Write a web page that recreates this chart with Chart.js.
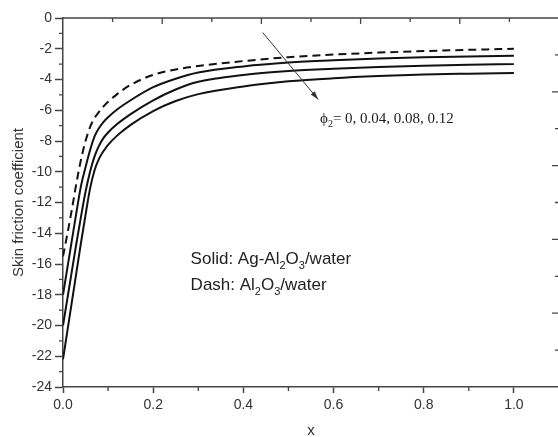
<!DOCTYPE html>
<html>
<head>
<meta charset="utf-8">
<script src="https://cdn.jsdelivr.net/npm/chart.js@4.4.1/dist/chart.umd.min.js"></script>
<style>
  html, body { margin: 0; padding: 0; background: #fff; overflow: hidden; }
  #wrap { width: 558px; height: 437px; overflow: hidden; background: #fff; }
</style>
</head>
<body>
<div id="wrap"><canvas id="chart" width="560" height="437"></canvas></div>
<script>
// x positions along the plate
var xValues = [0, 0.01, 0.02, 0.03, 0.04, 0.05, 0.06, 0.07, 0.08, 0.09, 0.1, 0.12, 0.15, 0.2, 0.25, 0.3, 0.4, 0.5, 0.6, 0.7, 0.8, 0.9, 1.0];

// Al2O3/water (phi2 = 0), dashed
var cfPhi0 = [-15.5, -14.0, -12.4, -10.7, -9.2, -8.0, -7.1, -6.5, -6.1, -5.75, -5.45, -4.95, -4.35, -3.7, -3.35, -3.12, -2.8, -2.55, -2.38, -2.25, -2.15, -2.07, -2.0];
// Ag-Al2O3/water, solid
var cfPhi004 = [-18.0, -16.2, -14.4, -12.6, -10.9, -9.7, -8.6, -7.7, -7.15, -6.75, -6.45, -5.95, -5.35, -4.5, -3.95, -3.55, -3.15, -2.9, -2.75, -2.64, -2.56, -2.5, -2.45];
var cfPhi008 = [-20.0, -18.2, -16.4, -14.6, -12.9, -11.3, -10.0, -9.0, -8.3, -7.8, -7.45, -6.9, -6.25, -5.35, -4.65, -4.15, -3.7, -3.45, -3.3, -3.19, -3.1, -3.04, -3.0];
var cfPhi012 = [-22.2, -20.3, -18.4, -16.5, -14.6, -12.8, -11.1, -9.9, -9.15, -8.65, -8.25, -7.65, -6.95, -6.05, -5.4, -4.95, -4.45, -4.12, -3.92, -3.78, -3.68, -3.62, -3.57];

var xTicks = [0, 0.2, 0.4, 0.6, 0.8, 1.0];
var yTicks = [0, -2, -4, -6, -8, -10, -12, -14, -16, -18, -20, -22, -24];

var axisColor = "#444";
var textColor = "#333";
var sans = "'Liberation Sans', Arial, sans-serif";
var serif = "'Liberation Serif', 'Times New Roman', serif";

function toPoints(ys) {
  return xValues.map(function (x, i) {
    return { x: x, y: ys[i] };
  });
}

function curve(label, ys, dashed) {
  return {
    label: label,
    data: toPoints(ys),
    borderColor: "#111",
    borderWidth: 2,
    borderDash: dashed ? [8, 5] : [],
    pointRadius: 0,
    fill: false,
    cubicInterpolationMode: "monotone",
  };
}

// text with a subscript run: parts = [[text, isSub], ...]
function drawRich(ctx, parts, x, y, size, family) {
  var cx = x;
  parts.forEach(function (p) {
    var fs = p[1] ? Math.round(size * 0.65) : size;
    ctx.font = fs + "px " + family;
    ctx.fillText(p[0], cx, p[1] ? y + size * 0.3 : y);
    cx += ctx.measureText(p[0]).width;
  });
}

// frame, minor ticks and the mirrored top/right ticks
var frameTicks = {
  id: "frameTicks",
  afterDraw: function (chart) {
    var ctx = chart.ctx;
    var a = chart.chartArea;
    var xs = chart.scales.x;
    var ys = chart.scales.y;
    ctx.save();
    ctx.strokeStyle = axisColor;
    ctx.lineWidth = 1.5;
    ctx.beginPath();
    ctx.moveTo(a.left, a.top);
    ctx.lineTo(a.right, a.top);
    ctx.lineTo(a.right, a.bottom);
    ctx.stroke();

    ctx.lineWidth = 1.3;
    ctx.beginPath();
    // minor ticks, bottom
    for (var v = 0.1; v < 1.05; v += 0.2) {
      var px = xs.getPixelForValue(v);
      ctx.moveTo(px, a.bottom);
      ctx.lineTo(px, a.bottom + 4);
    }
    // minor ticks, left
    for (var w = -1; w > -24; w -= 2) {
      var py = ys.getPixelForValue(w);
      ctx.moveTo(a.left, py);
      ctx.lineTo(a.left - 4, py);
    }
    // top and right ticks, ten divisions, inward
    for (var k = 1; k < 10; k++) {
      var tx = a.left + (a.right - a.left) * k / 10;
      ctx.moveTo(tx, a.top);
      ctx.lineTo(tx, a.top + (k % 2 === 0 ? 6 : 4));
      var ty = a.top + (a.bottom - a.top) * k / 10;
      ctx.moveTo(a.right, ty);
      ctx.lineTo(a.right - (k % 2 === 0 ? 7 : 4), ty);
    }
    ctx.stroke();
    ctx.restore();
  },
};

// arrow and text labels inside the plot
var notes = {
  id: "notes",
  afterDatasetsDraw: function (chart) {
    var ctx = chart.ctx;
    var xs = chart.scales.x;
    var ys = chart.scales.y;
    ctx.save();

    var x0 = xs.getPixelForValue(0.443), y0 = ys.getPixelForValue(-0.95);
    var x1 = xs.getPixelForValue(0.566), y1 = ys.getPixelForValue(-5.3);
    ctx.strokeStyle = "#333";
    ctx.fillStyle = "#333";
    ctx.lineWidth = 1;
    ctx.beginPath();
    ctx.moveTo(x0, y0);
    ctx.lineTo(x1, y1);
    ctx.stroke();
    var ang = Math.atan2(y1 - y0, x1 - x0);
    ctx.beginPath();
    ctx.moveTo(x1, y1);
    ctx.lineTo(x1 - 9 * Math.cos(ang - 0.3), y1 - 9 * Math.sin(ang - 0.3));
    ctx.lineTo(x1 - 9 * Math.cos(ang + 0.3), y1 - 9 * Math.sin(ang + 0.3));
    ctx.closePath();
    ctx.fill();

    ctx.fillStyle = "#222";
    ctx.textBaseline = "alphabetic";
    drawRich(ctx, [["\u03d5", false], ["2", true], ["= 0, 0.04, 0.08, 0.12", false]],
      xs.getPixelForValue(0.57), ys.getPixelForValue(-6.8), 15, serif);

    drawRich(ctx, [["Solid: Ag-Al", false], ["2", true], ["O", false], ["3", true], ["/water", false]],
      xs.getPixelForValue(0.283), ys.getPixelForValue(-16.0), 17, sans);
    drawRich(ctx, [["Dash: Al", false], ["2", true], ["O", false], ["3", true], ["/water", false]],
      xs.getPixelForValue(0.283), ys.getPixelForValue(-17.7), 17, sans);
    ctx.restore();
  },
};

var bg = {
  id: "bg",
  beforeDraw: function (chart) {
    var ctx = chart.ctx;
    ctx.save();
    ctx.fillStyle = "#fff";
    ctx.fillRect(0, 0, chart.width, chart.height);
    ctx.restore();
  },
};

var ctx = document.getElementById("chart").getContext("2d");

new Chart(ctx, {
  type: "line",
  data: {
    datasets: [
      curve("\u03d52 = 0", cfPhi0, true),
      curve("\u03d52 = 0.04", cfPhi004, false),
      curve("\u03d52 = 0.08", cfPhi008, false),
      curve("\u03d52 = 0.12", cfPhi012, false),
    ],
  },
  options: {
    responsive: false,
    animation: false,
    layout: { padding: { top: 18, right: 1, left: 0, bottom: 0 } },
    plugins: {
      legend: { display: false },
      tooltip: { enabled: false },
    },
    scales: {
      x: {
        type: "linear",
        min: 0,
        max: 1.1,
        afterBuildTicks: function (s) {
          s.ticks = xTicks.map(function (v) { return { value: v }; });
        },
        afterFit: function (s) { s.height = 50; },
        ticks: {
          color: textColor,
          font: { family: sans, size: 14 },
          padding: 4,
          maxRotation: 0,
          callback: function (v) { return Number(v).toFixed(1); },
        },
        grid: { drawOnChartArea: false, tickLength: 6, tickWidth: 1.5, tickColor: axisColor },
        border: { color: axisColor, width: 1.5 },
        title: {
          display: true,
          text: "x",
          color: textColor,
          font: { family: sans, size: 15 },
          padding: { top: 6, bottom: -3 },
        },
      },
      y: {
        type: "linear",
        min: -24,
        max: 0,
        afterBuildTicks: function (s) {
          s.ticks = yTicks.map(function (v) { return { value: v }; });
        },
        afterFit: function (s) { s.width = 63; },
        ticks: {
          color: textColor,
          font: { family: sans, size: 14 },
          padding: 3,
        },
        grid: { drawOnChartArea: false, tickLength: 8, tickWidth: 1.5, tickColor: axisColor },
        border: { color: axisColor, width: 1.5 },
        title: {
          display: true,
          text: "Skin friction coefficient",
          color: textColor,
          font: { family: sans, size: 15 },
          padding: { top: 10, bottom: 0 },
        },
      },
    },
  },
  plugins: [bg, frameTicks, notes],
});
</script>
</body>
</html>
